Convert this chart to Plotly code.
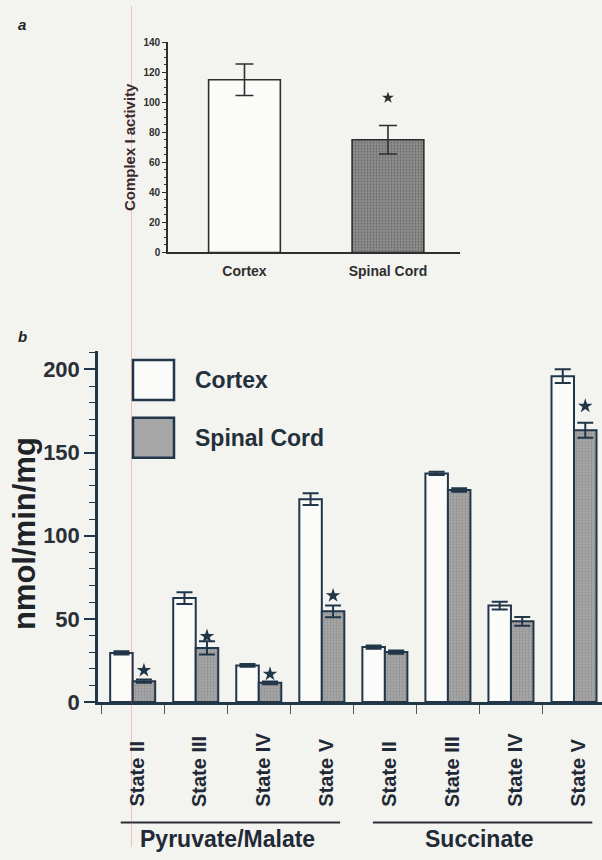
import plotly.graph_objects as go

W, H = 602, 860

def fx(p):
    return p / W

def fy(p):
    return 1 - p / H

# ---------------- data ----------------
# panel a
regions_a = ["Cortex", "Spinal Cord"]
complex1 = [115, 75]
complex1_err = [10.5, 9.5]
complex1_sig = [None, 103]

# panel b
substrates = ["Pyruvate/Malate", "Succinate"]
states = ["State II", "State III", "State IV", "State V"]
cat_keys = [f"{s} | {st}" for s in substrates for st in states]
state_labels = states * 2
series_names = ["Cortex", "Spinal Cord"]
cortex_b = [29.5, 62.5, 22, 122, 33, 137.5, 58, 196]
cortex_b_err = [1, 3.5, 0.8, 3.5, 1, 1, 2.3, 4.2]
sc_b = [12.5, 32.5, 11.5, 54.5, 30, 127.5, 48.5, 163.5]
sc_b_err = [1, 4, 0.8, 3.5, 1, 1, 2.6, 4.5]
sc_b_sig = [19, 39.5, 16.8, 64, None, None, None, 178]

yticks_b = [0, 50, 100, 150, 200]
yticks_a = [0, 20, 40, 60, 80, 100, 120, 140]

# ---------------- styles ----------------
DARK_A = "#2e2e2e"
DARK_B = "#22364a"
WHITE = "#fbfbf9"
GRAY_B = "#a6a6a6"
GRAY_A = "#8e8e8e"
PAPER = "#f3f3f0"
FONT = "Liberation Sans"

fig = go.Figure()

# ---- panel a ----
fig.add_trace(go.Bar(
    x=regions_a, y=complex1, width=0.5,
    marker=dict(color=[WHITE, GRAY_A], line=dict(color=DARK_A, width=1.6),
                pattern=dict(shape=["", "."], fgcolor="#646464", size=3, solidity=0.3)),
    error_y=dict(type="data", array=complex1_err, color=DARK_A, thickness=1.6, width=9),
    xaxis="x", yaxis="y", showlegend=False, hoverinfo="skip"))
fig.add_trace(go.Scatter(
    x=regions_a, y=complex1_sig, mode="markers",
    marker=dict(symbol="star", size=9, color=DARK_A),
    xaxis="x", yaxis="y", showlegend=False, hoverinfo="skip"))

# ---- panel b ----
fig.add_trace(go.Bar(
    name=series_names[0], x=cat_keys, y=cortex_b, offsetgroup="ctx",
    marker=dict(color=WHITE, line=dict(color=DARK_B, width=2)),
    error_y=dict(type="data", array=cortex_b_err, color=DARK_B, thickness=2, width=8),
    xaxis="x2", yaxis="y2", showlegend=False))
fig.add_trace(go.Bar(
    name=series_names[1], x=cat_keys, y=sc_b, offsetgroup="sc",
    marker=dict(color=GRAY_B, line=dict(color=DARK_B, width=2),
                pattern=dict(shape=".", fgcolor="#767676", size=3, solidity=0.3)),
    error_y=dict(type="data", array=sc_b_err, color=DARK_B, thickness=2, width=8),
    xaxis="x2", yaxis="y2", showlegend=False))
fig.add_trace(go.Scatter(
    x=cat_keys, y=[None] * len(cat_keys), offsetgroup="ctx", mode="markers",
    xaxis="x2", yaxis="y2", showlegend=False, hoverinfo="skip"))
fig.add_trace(go.Scatter(
    x=cat_keys, y=sc_b_sig, offsetgroup="sc", mode="markers",
    marker=dict(symbol="star", size=11, color=DARK_B),
    xaxis="x2", yaxis="y2", showlegend=False, hoverinfo="skip"))

fig.update_layout(
    width=W, height=H,
    margin=dict(l=0, r=0, t=0, b=0),
    paper_bgcolor=PAPER, plot_bgcolor="rgba(0,0,0,0)",
    font=dict(family=FONT, color=DARK_A),
    barmode="group", bargap=0.286, bargroupgap=0,
    scattermode="group", scattergap=0.286,
    xaxis=dict(domain=[fx(168), fx(460)], range=[-0.533, 1.502], anchor="y",
               showline=True, linecolor=DARK_A, linewidth=1.6, ticks="",
               showgrid=False, zeroline=False,
               tickfont=dict(size=14, weight="bold", color=DARK_A),
               ticklabelstandoff=5),
    yaxis=dict(domain=[fy(252), fy(37)], range=[0, 140], anchor="x",
               tickvals=yticks_a, ticks="outside", ticklen=4, tickwidth=1,
               tickcolor=DARK_A, showline=True, linecolor=DARK_A, linewidth=1.6,
               showgrid=False, zeroline=False,
               minor=dict(dtick=5, ticks="outside", ticklen=2, tickcolor=DARK_A),
               tickfont=dict(size=10, weight="bold", color=DARK_A),
               title=dict(text="Complex I activity", standoff=4,
                          font=dict(size=15, weight="bold", color="#3a2a2a"))),
    xaxis2=dict(domain=[fx(98), 1], range=[-0.55, 7.444], anchor="y2",
                type="category", categoryorder="array", categoryarray=cat_keys,
                tickson="boundaries", ticks="outside", ticklen=9, tickwidth=1,
                tickcolor="#555", showticklabels=False,
                showline=True, linecolor=DARK_B, linewidth=2.5,
                showgrid=False, zeroline=False),
    yaxis2=dict(domain=[fy(711.7), fy(353)], range=[0, 211], anchor="x2",
                tickvals=yticks_b, ticks="outside", ticklen=11, tickwidth=1.5,
                tickcolor=DARK_B, showline=True, linecolor=DARK_B, linewidth=2.5,
                showgrid=False, zeroline=False,
                minor=dict(dtick=10, ticks="outside", ticklen=6, tickwidth=1, tickcolor=DARK_B),
                tickfont=dict(size=22, weight="bold", color="#2a2f36")),
)

shapes = []
annotations = []

# panel a end ticks on x axis
for xd in [0, 1]:
    shapes.append(dict(type="line", xref="x domain", yref="y", ysizemode="pixel", yanchor=0,
                       x0=xd, x1=xd, y0=0, y1=-7, line=dict(color=DARK_A, width=1)))

# panel b y-axis title
annotations.append(dict(x=fx(24), y=fy(540), xref="paper", yref="paper", text="nmol/min/mg",
                        textangle=-90, showarrow=False, xanchor="center", yanchor="middle",
                        font=dict(size=31, weight="bold", color="#1f2328")))

# state labels (panel b)
for key, lab in zip(cat_keys, state_labels):
    annotations.append(dict(x=key, xref="x2", y=fy(821), yref="paper", text=lab,
                            textangle=-90, showarrow=False, xanchor="center", yanchor="bottom",
                            xshift=4, font=dict(size=20, weight="bold", color="#1f2a36")))

# substrate brackets and labels
for gi, sub in enumerate(substrates):
    first = gi * len(states)
    last = first + len(states) - 1
    shapes.append(dict(type="line", xref="x2", yref="paper",
                       x0=first - 0.19, x1=last + 0.29, y0=fy(835), y1=fy(835),
                       line=dict(color="#2a2f36", width=2)))
    annotations.append(dict(x=(first + last) / 2, xref="x2", y=fy(852), yref="paper",
                            text=sub, showarrow=False, xanchor="center", yanchor="middle",
                            font=dict(size=23, weight="bold", color="#1f2a36")))

# manual legend (panel b)
leg_fill = [WHITE, GRAY_B]
leg_tops = [362, 421]
for name, fill, top in zip(series_names, leg_fill, leg_tops):
    shapes.append(dict(type="rect", xref="paper", yref="paper",
                       x0=fx(133), x1=fx(174), y0=fy(top + 41), y1=fy(top),
                       fillcolor=fill, line=dict(color=DARK_B, width=2.5)))
    annotations.append(dict(x=fx(193), y=fy(top + 20.5), xref="paper", yref="paper",
                            text=name, showarrow=False, xanchor="left", yanchor="middle",
                            font=dict(size=23, weight="bold", color="#22303c")))

# panel letters
annotations.append(dict(x=fx(22), y=fy(19), xref="paper", yref="paper", text="<b><i>a</i></b>",
                        showarrow=False, xanchor="center", yanchor="middle",
                        font=dict(size=15, color="#222")))
annotations.append(dict(x=fx(22), y=fy(338), xref="paper", yref="paper", text="<b><i>b</i></b>",
                        showarrow=False, xanchor="center", yanchor="middle",
                        font=dict(size=15, color="#222")))

# faint red scan line
shapes.append(dict(type="line", xref="paper", yref="paper", x0=fx(131.5), x1=fx(131.5),
                   y0=0, y1=1, line=dict(color="rgba(230,80,80,0.3)", width=1), layer="above"))

fig.update_layout(shapes=shapes, annotations=annotations)

fig.write_html("out.html", config={"displayModeBar": False},
               post_script="document.body.style.margin='0';document.body.style.background='" + PAPER + "';")
